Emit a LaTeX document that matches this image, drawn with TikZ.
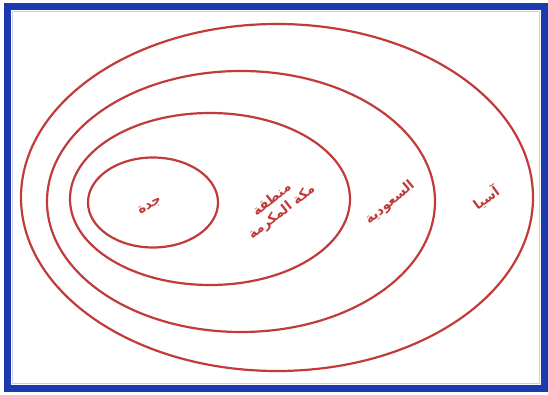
\documentclass[tikz,border=0pt]{standalone}
\usepackage{fontspec}
\newfontfamily\arabicfont[Script=Arabic]{DejaVu Sans}
\TeXXeTstate=1
\usepackage{xcolor}
\usepackage{tikz}
\definecolor{frameblue}{HTML}{1A3AAE}
\definecolor{ringred}{HTML}{C23B3B}

\begin{document}
\begin{tikzpicture}[
  x=1pt, y=-1pt,
  ring/.style={draw=ringred, line width=2.2pt},
  place/.style={text=ringred, font=\arabicfont\bfseries\fontsize{13.5}{16}\selectfont, align=center, inner sep=1pt}
]
\useasboundingbox (0,0) rectangle (548,395);
\fill[white] (0,0) rectangle (548,395);
\draw[frameblue, line width=7pt] (7.5,6.5) rectangle (544,388);
\draw[frameblue!25, line width=1pt] (12.5,11.5) rectangle (539,383);
% nested regions
\draw[ring] (277,197.5) ellipse [x radius=256, y radius=173.5];
\draw[ring] (241,201.5) ellipse [x radius=194, y radius=130.5];
\draw[ring] (210,199) ellipse [x radius=140, y radius=86];
\draw[ring] (153,202.5) ellipse [x radius=65, y radius=45];
% labels
\node[place, rotate=32] (jeddah) at (150,206) {\beginR جدة\endR};
\node[place, rotate=38] (makkah) at (277,206) {\beginR منطقة\endR\\\beginR مكة المكرمة\endR};
\node[place, rotate=40] (saudi) at (390,203) {\beginR السعودية\endR};
\node[place, rotate=36] (asia) at (486,198) {\beginR آسيا\endR};
\end{tikzpicture}
\end{document}
